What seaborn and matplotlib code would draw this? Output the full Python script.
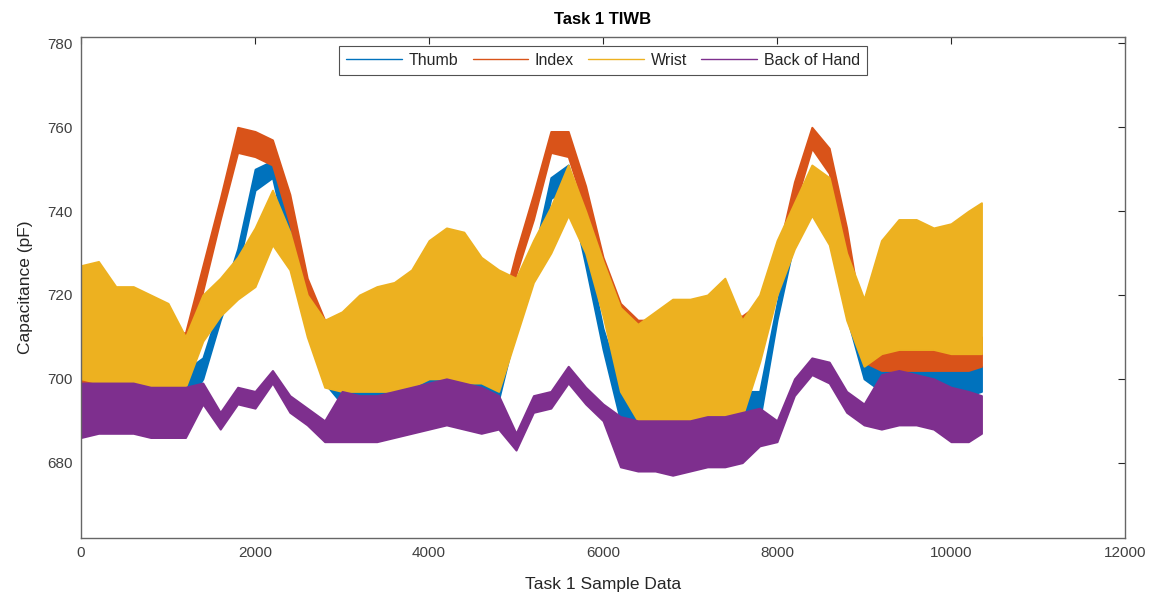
import numpy as np
import pandas as pd
import matplotlib
matplotlib.use("Agg")
import matplotlib.pyplot as plt
from matplotlib.lines import Line2D
import seaborn as sns

# sample positions at which the envelope (min / max) of each trace was read
samples = [0, 200, 400, 600, 800, 1000, 1200, 1400, 1600, 1800, 2000, 2200, 2400, 2600,
           2800, 3000, 3200, 3400, 3600, 3800, 4000, 4200, 4400, 4600, 4800, 5000, 5200,
           5400, 5600, 5800, 6000, 6200, 6400, 6600, 6800, 7000, 7200, 7400, 7600, 7800,
           8000, 8200, 8400, 8600, 8800, 9000, 9200, 9400, 9600, 9800, 10000, 10200, 10350]

thumb_lo = [693, 693, 693, 692, 692, 692, 693, 700, 714, 726, 745, 748, 730, 715,
            699, 694, 694, 694, 694, 695, 696, 696, 696, 695, 695, 712, 724,
            743, 746, 727, 707, 690, 687, 687, 687, 687, 687, 687, 688, 690,
            714, 733, 744, 740, 715, 700, 697, 697, 697, 697, 696, 696, 697]
thumb_hi = [702, 702, 702, 701, 701, 701, 702, 705, 718, 731, 750, 752, 738, 720,
            704, 699, 699, 699, 700, 700, 702, 701, 701, 700, 700, 718, 729,
            748, 751, 732, 712, 699, 697, 697, 698, 697, 697, 698, 697, 697,
            718, 738, 749, 746, 720, 705, 703, 703, 703, 703, 702, 703, 703]

index_lo = [699, 699, 699, 699, 699, 700, 702, 721, 738, 754, 753, 751, 737, 718,
            704, 700, 700, 700, 700, 700, 701, 702, 702, 701, 703, 725, 738,
            754, 753, 740, 723, 712, 703, 703, 703, 703, 703, 703, 703, 712,
            724, 741, 755, 749, 730, 704, 702, 702, 702, 702, 702, 702, 703]
index_hi = [712, 712, 712, 712, 712, 711, 711, 727, 743, 760, 759, 757, 744, 724,
            714, 714, 714, 714, 714, 714, 715, 716, 716, 715, 714, 730, 744,
            759, 759, 746, 729, 718, 714, 714, 715, 715, 715, 715, 715, 718,
            729, 747, 760, 755, 736, 711, 711, 711, 711, 711, 711, 711, 710]

wrist_lo = [700, 699, 698, 697, 697, 694, 698, 709, 715, 719, 722, 732, 726, 710,
            698, 697, 697, 697, 697, 698, 700, 700, 699, 699, 697, 710, 723,
            730, 739, 730, 715, 697, 690, 688, 687, 688, 689, 690, 691, 704,
            720, 731, 739, 732, 714, 703, 706, 707, 707, 707, 706, 706, 706]
wrist_hi = [727, 728, 722, 722, 720, 718, 710, 720, 724, 729, 736, 745, 735, 720,
            714, 716, 720, 722, 723, 726, 733, 736, 735, 729, 726, 724, 733,
            741, 751, 740, 728, 717, 713, 716, 719, 719, 720, 724, 714, 720,
            733, 742, 751, 748, 730, 719, 733, 738, 738, 736, 737, 740, 742]

back_lo = [686, 687, 687, 687, 686, 686, 686, 694, 688, 694, 693, 699, 692, 689,
           685, 685, 685, 685, 686, 687, 688, 689, 688, 687, 688, 683, 692,
           693, 699, 694, 690, 679, 678, 678, 677, 678, 679, 679, 680, 684,
           685, 696, 701, 699, 692, 689, 688, 689, 689, 688, 685, 685, 687]
back_hi = [699, 699, 699, 699, 698, 698, 698, 699, 692, 698, 697, 702, 696, 693,
           690, 697, 696, 696, 697, 698, 699, 700, 699, 698, 696, 687, 696,
           697, 703, 698, 694, 691, 690, 690, 690, 690, 691, 691, 692, 693,
           690, 700, 705, 704, 697, 694, 701, 702, 701, 700, 698, 697, 696]

series_names = ["Thumb", "Index", "Wrist", "Back of Hand"]
series_colors = ["#0072BD", "#D95319", "#EDB120", "#7E2F8E"]

title = "Task 1 TIWB"
x_label = "Task 1 Sample Data"
y_label = "Capacitance (pF)"
x_ticks = [0, 2000, 4000, 6000, 8000, 10000, 12000]
y_ticks = [680, 700, 720, 740, 760, 780]

envelopes = {
    "Thumb": (thumb_lo, thumb_hi),
    "Index": (index_lo, index_hi),
    "Wrist": (wrist_lo, wrist_hi),
    "Back of Hand": (back_lo, back_hi),
}

# long-form table: the min and max reading at each sample position
rows = []
for name in series_names:
    lo, hi = envelopes[name]
    for s, a, b in zip(samples, lo, hi):
        rows.append((name, s, a))
        rows.append((name, s, b))
df = pd.DataFrame(rows, columns=["Sensor", "Sample", "Capacitance"])

sns.set_theme(style="white")
plt.rcParams["font.family"] = ["Liberation Sans", "DejaVu Sans"]

fig = plt.figure(figsize=(11.58, 6.0), dpi=100)
ax = fig.add_axes([0.070, 0.1038, 0.9015, 0.835])

# the band spans min..max of the readings (0-100 percentile interval)
sns.lineplot(data=df, x="Sample", y="Capacitance", hue="Sensor",
             hue_order=series_names, palette=series_colors,
             estimator="mean", errorbar=("pi", 100), linewidth=0,
             err_kws={"alpha": 1.0, "linewidth": 1.4}, legend=False, ax=ax)

ax.set_xlim(0, 12000)
ax.set_ylim(662.1, 781.6)
ax.set_xticks(x_ticks)
ax.set_yticks(y_ticks)
ax.tick_params(axis="both", which="both", direction="in", length=5, width=0.8,
               colors="#262626", labelsize=11, top=True, right=True,
               labelcolor="#404040", pad=6)
for sp in ax.spines.values():
    sp.set_color("#666666")
    sp.set_linewidth(1.0)

ax.set_title(title, fontsize=12, fontweight="bold", color="#000000", pad=9)
ax.set_xlabel(x_label, fontsize=12.5, color="#262626", labelpad=12)
ax.set_ylabel(y_label, fontsize=12.5, color="#262626", labelpad=10)

handles = [Line2D([0], [0], color=c, linewidth=1.0) for c in series_colors]
leg = ax.legend(handles, series_names, loc="upper center", ncol=4, frameon=True,
                fontsize=11.5, handlelength=3.5, columnspacing=0.9,
                handletextpad=0.4, borderpad=0.45, borderaxespad=0.0,
                bbox_to_anchor=(0.5, 0.982), fancybox=False)
leg.get_frame().set_edgecolor("#262626")
leg.get_frame().set_linewidth(0.8)

fig.savefig("out.png", dpi=100, facecolor="white")
